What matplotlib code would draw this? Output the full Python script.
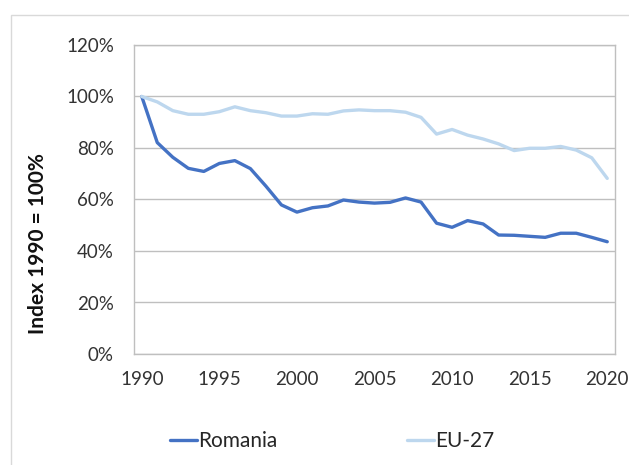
import matplotlib
matplotlib.use("Agg")
import matplotlib.pyplot as plt
from matplotlib.patches import Rectangle

years = list(range(1990, 2021))
romania = [100.0, 82.1, 76.4, 72.1, 70.9, 74.0, 75.1, 72.0, 65.2, 57.9,
           55.1, 56.8, 57.5, 59.8, 59.0, 58.6, 58.9, 60.6, 59.0, 50.8,
           49.2, 51.8, 50.5, 46.2, 46.1, 45.7, 45.3, 46.9, 46.9, 45.3, 43.6]
eu27 = [100.0, 97.9, 94.5, 93.1, 93.1, 94.1, 96.0, 94.5, 93.7, 92.4,
        92.4, 93.3, 93.1, 94.4, 94.8, 94.5, 94.5, 93.9, 91.9, 85.4,
        87.2, 85.0, 83.5, 81.6, 79.0, 79.9, 79.9, 80.6, 79.2, 76.2, 68.2]
yticks = [0, 20, 40, 60, 80, 100, 120]
xticks = [1990, 1995, 2000, 2005, 2010, 2015, 2020]

plt.rcParams['font.family'] = ['Lato', 'DejaVu Sans']

fig = plt.figure(figsize=(6.29, 4.65), dpi=100)
# outer chart frame
fig.patches.append(Rectangle((10.5 / 629, -0.1), 1.0, 1 - 15 / 465 + 0.1,
                             transform=fig.transFigure, fill=False,
                             edgecolor='#D9D9D9', linewidth=1))

ax = fig.add_axes([134 / 629, 1 - 354 / 465, (615 - 134) / 629, (354 - 45) / 465])

ax.plot(years, romania, color='#4472C4', linewidth=2.4, label='Romania',
        solid_capstyle='round', solid_joinstyle='round')
ax.plot(years, eu27, color='#BDD7EE', linewidth=2.4, label='EU-27',
        solid_capstyle='round', solid_joinstyle='round')

ax.set_xlim(1989.5, 2020.5)
ax.set_ylim(0, 120)
ax.set_yticks(yticks)
ax.set_yticklabels([f'{t}%' for t in yticks])
ax.set_xticks(xticks)
ax.tick_params(axis='both', length=0, labelsize=13.5, colors='#333333')
ax.tick_params(axis='x', pad=12)
ax.tick_params(axis='y', pad=14.5)
ax.grid(axis='y', color='#BFBFBF', linewidth=1)
ax.set_axisbelow(True)
for s in ax.spines.values():
    s.set_color('#BFBFBF')
    s.set_linewidth(1)

fig.text(38 / 629, 1 - 244 / 465, 'Index 1990 = 100%', rotation=90,
         ha='center', va='center', fontsize=15, fontweight='bold',
         color='#111111')

leg = fig.legend(loc='center', bbox_to_anchor=(332 / 629, 1 - 441 / 465), ncol=2,
                 frameon=False, fontsize=15, handlelength=1.3,
                 handletextpad=0.05, columnspacing=6.2)
for t in leg.get_texts():
    t.set_color('#262626')

fig.savefig('out.png', dpi=100)
